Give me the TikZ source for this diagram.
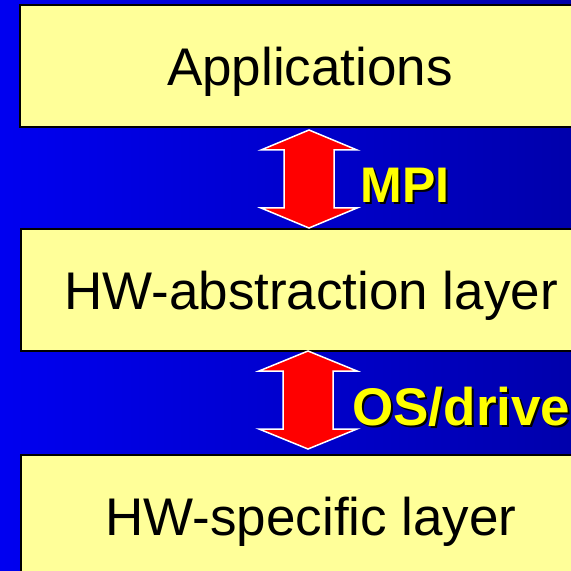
\documentclass[tikz,border=0pt]{standalone}
\usepackage{fontspec}
\setmainfont{Liberation Sans}

\definecolor{layerfill}{RGB}{255,255,153}
\definecolor{bgleft}{RGB}{0,0,240}
\definecolor{bgright}{RGB}{0,0,172}
\definecolor{ifaceyellow}{RGB}{255,255,0}

\begin{document}
\begin{tikzpicture}[x=0.5pt, y=-0.5pt,
    layer/.style = {draw=black, line width=1pt, fill=layerfill, minimum width=290pt,
                    minimum height=61pt, inner sep=0pt, text depth=0pt,
                    font=\fontsize{26.5}{30}\selectfont},
    iface/.style = {text=ifaceyellow, anchor=base west, inner sep=0pt,
                    font=\bfseries\fontsize{25}{28}\selectfont},
    ifaceshadow/.style = {iface, text=black},
    updown/.style = {fill=red, draw=white, line width=0.75pt}]
    \useasboundingbox (0,0) rectangle (571,571);
    \clip (0,0) rectangle (571,571);
    \shade[left color=bgleft, right color=bgright] (0,0) rectangle (571,571);

    % the three layers
    \node[layer] (app) at (310,66) {Applications};
    \node[layer] (hwa) at (311,290) {HW-abstraction layer};
    \node[layer] (hws) at (311,516) {HW-specific layer};

    % interfaces between them
    \coordinate (mpiarrow) at (309,179);
    \coordinate (osarrow) at (308,400);
    \draw[updown, shift={(mpiarrow)}] (0,-49) -- (48,-29) -- (25,-29) -- (25,29) -- (48,29)
        -- (0,49) -- (-48,29) -- (-25,29) -- (-25,-29) -- (-48,-29) -- cycle;
    \draw[updown, shift={(osarrow)}] (0,-49) -- (49,-29) -- (25,-29) -- (25,29) -- (49,29)
        -- (0,49) -- (-49,29) -- (-25,29) -- (-25,-29) -- (-49,-29) -- cycle;

    \node[ifaceshadow] (mpishadow) at (362,205) {MPI};
    \node[iface] (mpi) at (360,203) {MPI};
    \node[ifaceshadow, font=\bfseries\fontsize{26.5}{28}\selectfont] (osshadow) at (354,427) {OS/drive};
    \node[iface, font=\bfseries\fontsize{26.5}{28}\selectfont] (os) at (352,425) {OS/drive};
\end{tikzpicture}
\end{document}
